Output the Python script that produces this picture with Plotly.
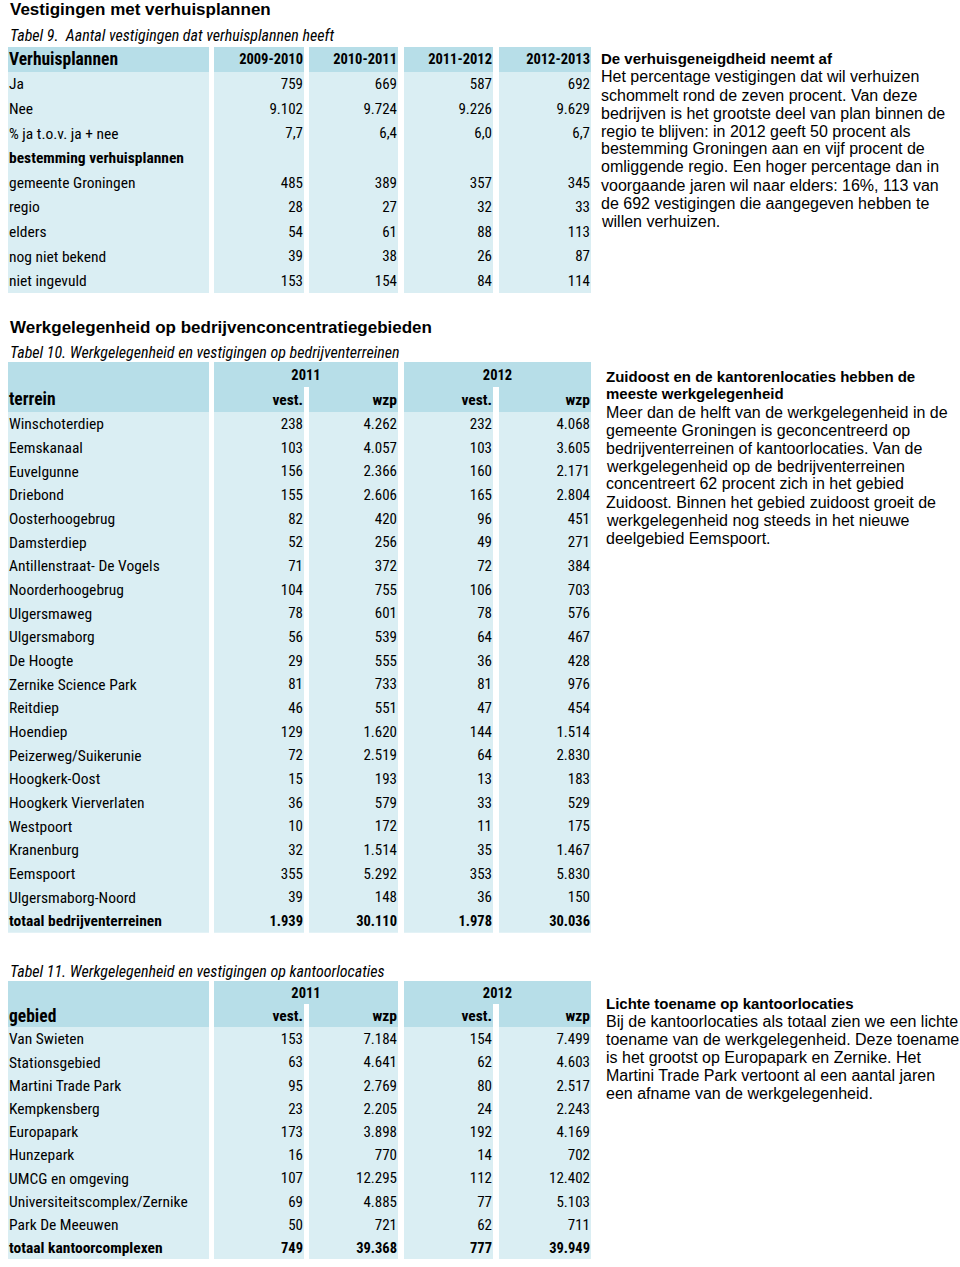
import subprocess
import plotly.graph_objects as go

# ---------------- DATA ----------------
# Tabel 9
t9_periods = ["2009-2010", "2010-2011", "2011-2012", "2012-2013"]
t9_labels = ["Ja", "Nee", "% ja t.o.v. ja + nee", "bestemming verhuisplannen",
             "gemeente Groningen", "regio", "elders", "nog niet bekend", "niet ingevuld"]
t9_bold_rows = ["bestemming verhuisplannen"]
t9_2009_2010 = [759, 9102, 7.7, None, 485, 28, 54, 39, 153]
t9_2010_2011 = [669, 9724, 6.4, None, 389, 27, 61, 38, 154]
t9_2011_2012 = [587, 9226, 6.0, None, 357, 32, 88, 26, 84]
t9_2012_2013 = [692, 9629, 6.7, None, 345, 33, 113, 87, 114]

# Tabel 10
t10_terrein = ["Winschoterdiep", "Eemskanaal", "Euvelgunne", "Driebond", "Oosterhoogebrug",
               "Damsterdiep", "Antillenstraat- De Vogels", "Noorderhoogebrug", "Ulgersmaweg",
               "Ulgersmaborg", "De Hoogte", "Zernike Science Park", "Reitdiep", "Hoendiep",
               "Peizerweg/Suikerunie", "Hoogkerk-Oost", "Hoogkerk Vierverlaten", "Westpoort",
               "Kranenburg", "Eemspoort", "Ulgersmaborg-Noord", "totaal bedrijventerreinen"]
t10_vest_2011 = [238, 103, 156, 155, 82, 52, 71, 104, 78, 56, 29, 81, 46, 129, 72, 15, 36, 10, 32, 355, 39, 1939]
t10_wzp_2011 = [4262, 4057, 2366, 2606, 420, 256, 372, 755, 601, 539, 555, 733, 551, 1620, 2519, 193, 579, 172, 1514, 5292, 148, 30110]
t10_vest_2012 = [232, 103, 160, 165, 96, 49, 72, 106, 78, 64, 36, 81, 47, 144, 64, 13, 33, 11, 35, 353, 36, 1978]
t10_wzp_2012 = [4068, 3605, 2171, 2804, 451, 271, 384, 703, 576, 467, 428, 976, 454, 1514, 2830, 183, 529, 175, 1467, 5830, 150, 30036]

# Tabel 11
t11_gebied = ["Van Swieten", "Stationsgebied", "Martini Trade Park", "Kempkensberg", "Europapark",
              "Hunzepark", "UMCG en omgeving", "Universiteitscomplex/Zernike", "Park De Meeuwen",
              "totaal kantoorcomplexen"]
t11_vest_2011 = [153, 63, 95, 23, 173, 16, 107, 69, 50, 749]
t11_wzp_2011 = [7184, 4641, 2769, 2205, 3898, 770, 12295, 4885, 721, 39368]
t11_vest_2012 = [154, 62, 80, 24, 192, 14, 112, 77, 62, 777]
t11_wzp_2012 = [7499, 4603, 2517, 2243, 4169, 702, 12402, 5103, 711, 39949]

years = ["2011", "2012"]
subcols = ["vest.", "wzp"]

# Texts
title1 = "Vestigingen met verhuisplannen"
caption9 = "Tabel 9.  Aantal vestigingen dat verhuisplannen heeft"
title2 = "Werkgelegenheid op bedrijvenconcentratiegebieden"
caption10 = "Tabel 10. Werkgelegenheid en vestigingen op bedrijventerreinen"
caption11 = "Tabel 11. Werkgelegenheid en vestigingen op kantoorlocaties"

para1_bold = ["De verhuisgeneigdheid neemt af"]
para1 = ["Het percentage vestigingen dat wil verhuizen",
         "schommelt rond de zeven procent. Van deze",
         "bedrijven is het grootste deel van plan binnen de",
         "regio te blijven: in 2012 geeft 50 procent als",
         "bestemming Groningen aan en vijf procent de",
         "omliggende regio. Een hoger percentage dan in",
         "voorgaande jaren wil naar elders: 16%, 113 van",
         "de 692 vestigingen die aangegeven hebben te",
         "willen verhuizen."]
para2_bold = ["Zuidoost en de kantorenlocaties hebben de", "meeste werkgelegenheid"]
para2 = ["Meer dan de helft van de werkgelegenheid in de",
         "gemeente Groningen is geconcentreerd op",
         "bedrijventerreinen of kantoorlocaties. Van de",
         "werkgelegenheid op de bedrijventerreinen",
         "concentreert 62 procent zich in het gebied",
         "Zuidoost. Binnen het gebied zuidoost groeit de",
         "werkgelegenheid nog steeds in het nieuwe",
         "deelgebied Eemspoort."]
para3_bold = ["Lichte toename op kantoorlocaties"]
para3 = ["Bij de kantoorlocaties als totaal zien we een lichte",
         "toename van de werkgelegenheid. Deze toename",
         "is het grootst op Europapark en Zernike. Het",
         "Martini Trade Park vertoont al een aantal jaren",
         "een afname van de werkgelegenheid."]

# ---------------- STYLE / LAYOUT ----------------
W, H = 960, 1267
HEAD = "#b7dee8"
BODY = "#daeef3"
SANS = "Liberation Sans, Arial, Helvetica, sans-serif"


def installed_families():
    try:
        out = subprocess.run(["fc-list", ":", "family"], capture_output=True, text=True,
                             timeout=20).stdout
        return out.lower()
    except Exception:
        return ""


fams = installed_families()
if "roboto condensed" in fams:
    NARROW = "Roboto Condensed, DejaVu Sans Condensed, sans-serif"
    S_REG, S_BOLD, S_HEAD, S_CAP, S_NUM, S_NUMB, S_YEAR = 15.5, 15.5, 17.5, 16, 15, 14.5, 14.5
elif "liberation sans narrow" in fams:
    NARROW = "Liberation Sans Narrow, DejaVu Sans Condensed, sans-serif"
    S_REG, S_BOLD, S_HEAD, S_CAP, S_NUM, S_NUMB, S_YEAR = 15.5, 15, 17, 15.5, 15.5, 15, 15
else:
    NARROW = "DejaVu Sans Condensed, DejaVu Sans, sans-serif"
    S_REG, S_BOLD, S_HEAD, S_CAP, S_NUM, S_NUMB, S_YEAR = 13.6, 12.8, 14, 13, 13, 12.5, 12.5

COLS = [(8, 209), (214, 304), (309, 398), (404, 493), (499, 591)]
PAD_R = 1
PAD_L = 1
TEXT_DY = 1.5  # px nudge downward for vertically centred text

# table geometry: top px, header row px, body row px
tables = [
    dict(top=47, hpx=24.7, rpx=24.6, nh=1, n=len(t9_labels)),
    dict(top=362, hpx=25.0, rpx=23.67, nh=2, n=len(t10_terrein)),
    dict(top=981, hpx=23.2, rpx=23.2, nh=2, n=len(t11_gebied)),
]


def fmt(v):
    if v is None:
        return ""
    if isinstance(v, float):
        return f"{v:.1f}".replace(".", ",")
    return f"{v:,}".replace(",", ".")


fig = go.Figure()

for i, t in enumerate(tables):
    ax = "" if i == 0 else str(i + 1)
    hf = t["hpx"] / t["rpx"]
    t["hf"] = hf
    t["ax"] = ax
    t["dy"] = TEXT_DY / t["rpx"]
    bottom = t["top"] + t["nh"] * t["hpx"] + t["n"] * t["rpx"]
    fig.layout["xaxis" + ax] = dict(domain=[0, 1], range=[0, W], visible=False,
                                    fixedrange=True, anchor="y" + ax)
    fig.layout["yaxis" + ax] = dict(domain=[1 - bottom / H, 1 - t["top"] / H],
                                    range=[t["n"] - 0.5, -0.5 - t["nh"] * hf], visible=False,
                                    anchor="x" + ax, fixedrange=True)


def hrow(t, j):
    """centre (data units) of header row j (0 = top)"""
    return -0.5 - t["hf"] * (t["nh"] - j - 0.5)


def band(t, left, right, yc, thick, color):
    fig.add_trace(go.Bar(orientation="h", y=[yc], x=[right - left], base=[left], width=[thick],
                         marker=dict(color=color, line=dict(width=0)),
                         xaxis="x" + t["ax"], yaxis="y" + t["ax"], hoverinfo="skip",
                         showlegend=False))


def texts(t, xs, ys, txt, pos, size=None, bold=False):
    fig.add_trace(go.Scatter(x=xs, y=[y + t["dy"] for y in ys], text=txt, mode="text",
                             textposition=pos,
                             textfont=dict(family=NARROW, size=size or S_REG, color="black",
                                           weight="bold" if bold else "normal"),
                             xaxis="x" + t["ax"], yaxis="y" + t["ax"], hoverinfo="skip",
                             showlegend=False, cliponaxis=False))


def body_cells(t, labels, cols, bold_rows):
    n = t["n"]
    rows = list(range(n))
    for (l, r) in COLS:
        band(t, l, r, (n - 1) / 2, n, BODY)
    normal = [k for k in rows if labels[k] not in bold_rows]
    bold = [k for k in rows if labels[k] in bold_rows]
    for sel, isb in ((normal, False), (bold, True)):
        if not sel:
            continue
        texts(t, [COLS[0][0] + PAD_L] * len(sel), sel, [labels[k] for k in sel],
              "middle right", size=S_BOLD if isb else S_REG, bold=isb)
        for ci, col in enumerate(cols):
            texts(t, [COLS[ci + 1][1] - PAD_R] * len(sel), sel, [fmt(col[k]) for k in sel],
                  "middle left", size=S_NUMB if isb else S_NUM, bold=isb)


# ----- Tabel 9 -----
t9 = tables[0]
for (l, r) in COLS:
    band(t9, l, r, hrow(t9, 0), t9["hf"], HEAD)
texts(t9, [COLS[0][0] + PAD_L], [hrow(t9, 0)], ["Verhuisplannen"], "middle right",
      size=S_HEAD, bold=True)
texts(t9, [c[1] - PAD_R for c in COLS[1:]], [hrow(t9, 0)] * 4, t9_periods, "middle left",
      size=S_YEAR, bold=True)
body_cells(t9, t9_labels, [t9_2009_2010, t9_2010_2011, t9_2011_2012, t9_2012_2013], t9_bold_rows)


# ----- Tabel 10 & 11 -----
def year_table(t, labels, cols, head_label):
    hf = t["hf"]
    band(t, COLS[0][0], COLS[0][1], -0.5 - hf, 2 * hf, HEAD)
    band(t, COLS[1][0], COLS[2][1], hrow(t, 0), hf, HEAD)
    band(t, COLS[3][0], COLS[4][1], hrow(t, 0), hf, HEAD)
    for (l, r) in COLS[1:]:
        band(t, l, r, hrow(t, 1), hf, HEAD)
    texts(t, [(COLS[1][0] + COLS[2][1]) / 2, (COLS[3][0] + COLS[4][1]) / 2],
          [hrow(t, 0)] * 2, years, "middle center", size=S_YEAR, bold=True)
    texts(t, [c[1] - PAD_R for c in COLS[1:]], [hrow(t, 1)] * 4, subcols * 2, "middle left",
          size=S_BOLD, bold=True)
    texts(t, [COLS[0][0] + PAD_L], [hrow(t, 1)], [head_label], "middle right",
          size=S_HEAD, bold=True)
    body_cells(t, labels, cols, [s for s in labels if s.startswith("totaal")])


year_table(tables[1], t10_terrein, [t10_vest_2011, t10_wzp_2011, t10_vest_2012, t10_wzp_2012],
           "terrein")
year_table(tables[2], t11_gebied, [t11_vest_2011, t11_wzp_2011, t11_vest_2012, t11_wzp_2012],
           "gebied")

# ----- titles & paragraphs -----
ann = []


def txt(x, y, s, size, family, bold=False, italic=False):
    ann.append(dict(x=x / W, y=1 - y / H, xref="paper", yref="paper", text=s, showarrow=False,
                    xanchor="left", yanchor="middle", align="left",
                    font=dict(size=size, family=family, color="black",
                              weight="bold" if bold else "normal",
                              style="italic" if italic else "normal")))


txt(8, 10, title1, 17, SANS, bold=True)
txt(8, 35, caption9, S_CAP, NARROW, italic=True)
txt(8, 328, title2, 17, SANS, bold=True)
txt(8, 353, caption10, S_CAP, NARROW, italic=True)
txt(8, 971, caption11, S_CAP, NARROW, italic=True)


def paragraph(x, y0, bold_lines, lines, step=18, size=16, bsize=15):
    y = y0
    for s in bold_lines:
        txt(x, y, s, bsize, SANS, bold=True)
        y += step
    for s in lines:
        txt(x, y, s, size, SANS)
        y += step


paragraph(599, 59, para1_bold, para1)
paragraph(604, 376, para2_bold, para2)
paragraph(604, 1003, para3_bold, para3)

fig.update_layout(width=W, height=H, margin=dict(l=0, r=0, t=0, b=0),
                  paper_bgcolor="white", plot_bgcolor="rgba(0,0,0,0)",
                  barmode="overlay", bargap=0, showlegend=False, annotations=ann)

fig.write_html("out.html", config={"displayModeBar": False},
               post_script="document.body.style.margin='0';")
